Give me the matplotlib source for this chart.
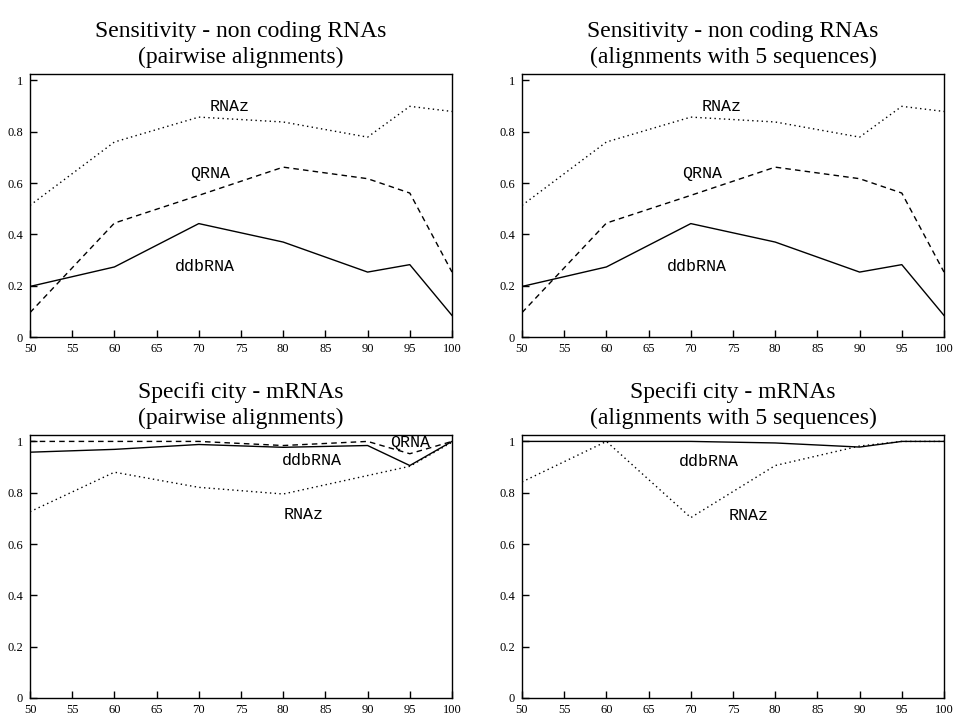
import matplotlib
matplotlib.use("Agg")
import matplotlib.pyplot as plt

# ---- data ----
identity = [50, 60, 70, 80, 90, 95, 100]

sens_rnaz = [0.513, 0.76, 0.857, 0.838, 0.779, 0.899, 0.879]
sens_qrna = [0.095, 0.444, 0.552, 0.662, 0.617, 0.561, 0.253]
sens_ddb = [0.197, 0.273, 0.442, 0.370, 0.253, 0.282, 0.084]

spec2_qrna = [1.0, 1.0, 1.0, 0.984, 1.0, 0.952, 1.0]
spec2_ddb = [0.958, 0.969, 0.988, 0.977, 0.984, 0.906, 1.0]
spec2_rnaz = [0.726, 0.88, 0.821, 0.795, 0.867, 0.903, 0.997]

spec5_ddb = [1.0, 1.0, 1.0, 0.994, 0.978, 1.0, 1.0]
spec5_rnaz = [0.842, 1.0, 0.703, 0.906, 0.982, 1.0, 1.0]

xticks = [50, 55, 60, 65, 70, 75, 80, 85, 90, 95, 100]
yticks = [0, 0.2, 0.4, 0.6, 0.8, 1]
ytick_labels = ["0", "0.2", "0.4", "0.6", "0.8", "1"]

titles = [
    "Sensitivity - non coding RNAs\n(pairwise alignments)",
    "Sensitivity - non coding RNAs\n(alignments with 5 sequences)",
    "Specifi city - mRNAs\n(pairwise alignments)",
    "Specifi city - mRNAs\n(alignments with 5 sequences)",
]

SERIF = "Liberation Serif"
MONO = "Liberation Mono"

fig = plt.figure(figsize=(9.54, 7.15), dpi=100)
W, H = 954, 715

def make_ax(x0, x1, ytop, ybot):
    return fig.add_axes([x0 / W, 1 - ybot / H, (x1 - x0) / W, (ybot - ytop) / H])

axes = [
    make_ax(30, 452, 74, 337),
    make_ax(522, 944, 74, 337),
    make_ax(30, 452, 435, 698),
    make_ax(522, 944, 435, 698),
]

solid = dict(color="black", lw=1.0, linestyle="-")
dashed = dict(color="black", lw=1.0, linestyle=(0, (4, 3)))
dotted = dict(color="black", lw=1.0, linestyle=(0, (1, 2.4)))

for i, ax in enumerate(axes):
    ax.set_xlim(50, 100)
    ax.set_ylim(0, 1.025)
    ax.set_xticks(xticks)
    ax.set_xticklabels([str(v) for v in xticks], fontfamily=SERIF, fontsize=9)
    ax.set_yticks(yticks)
    ax.set_yticklabels(ytick_labels, fontfamily=SERIF, fontsize=9)
    ax.tick_params(direction="in", length=5, width=1, top=False, right=False)
    ax.tick_params(axis="x", pad=4)
    ax.tick_params(axis="y", pad=5)
    for s in ax.spines.values():
        s.set_linewidth(1.0)
    ax.set_title(titles[i], fontfamily=SERIF, fontsize=17, pad=8, linespacing=1.3)

label_kw = dict(fontfamily=MONO, fontsize=12, ha="center", va="center")

for ax in axes[:2]:
    ax.plot(identity, sens_rnaz, **dotted)
    ax.plot(identity, sens_qrna, **dashed)
    ax.plot(identity, sens_ddb, **solid)
    ax.text(73.7, 0.899, "RNAz", **label_kw)
    ax.text(71.4, 0.636, "QRNA", **label_kw)
    ax.text(70.7, 0.273, "ddbRNA", **label_kw)

ax = axes[2]
ax.plot(identity, spec2_rnaz, **dotted)
ax.plot(identity, spec2_qrna, **dashed)
ax.plot(identity, spec2_ddb, **solid)
ax.text(95.0, 0.997, "QRNA", **label_kw)
ax.text(83.4, 0.926, "ddbRNA", **label_kw)
ax.text(82.4, 0.714, "RNAz", **label_kw)

ax = axes[3]
ax.plot(identity, spec5_rnaz, **dotted)
ax.plot(identity, spec5_ddb, **solid)
ax.text(72.2, 0.923, "ddbRNA", **label_kw)
ax.text(76.8, 0.712, "RNAz", **label_kw)

fig.savefig("out.png", dpi=100)
